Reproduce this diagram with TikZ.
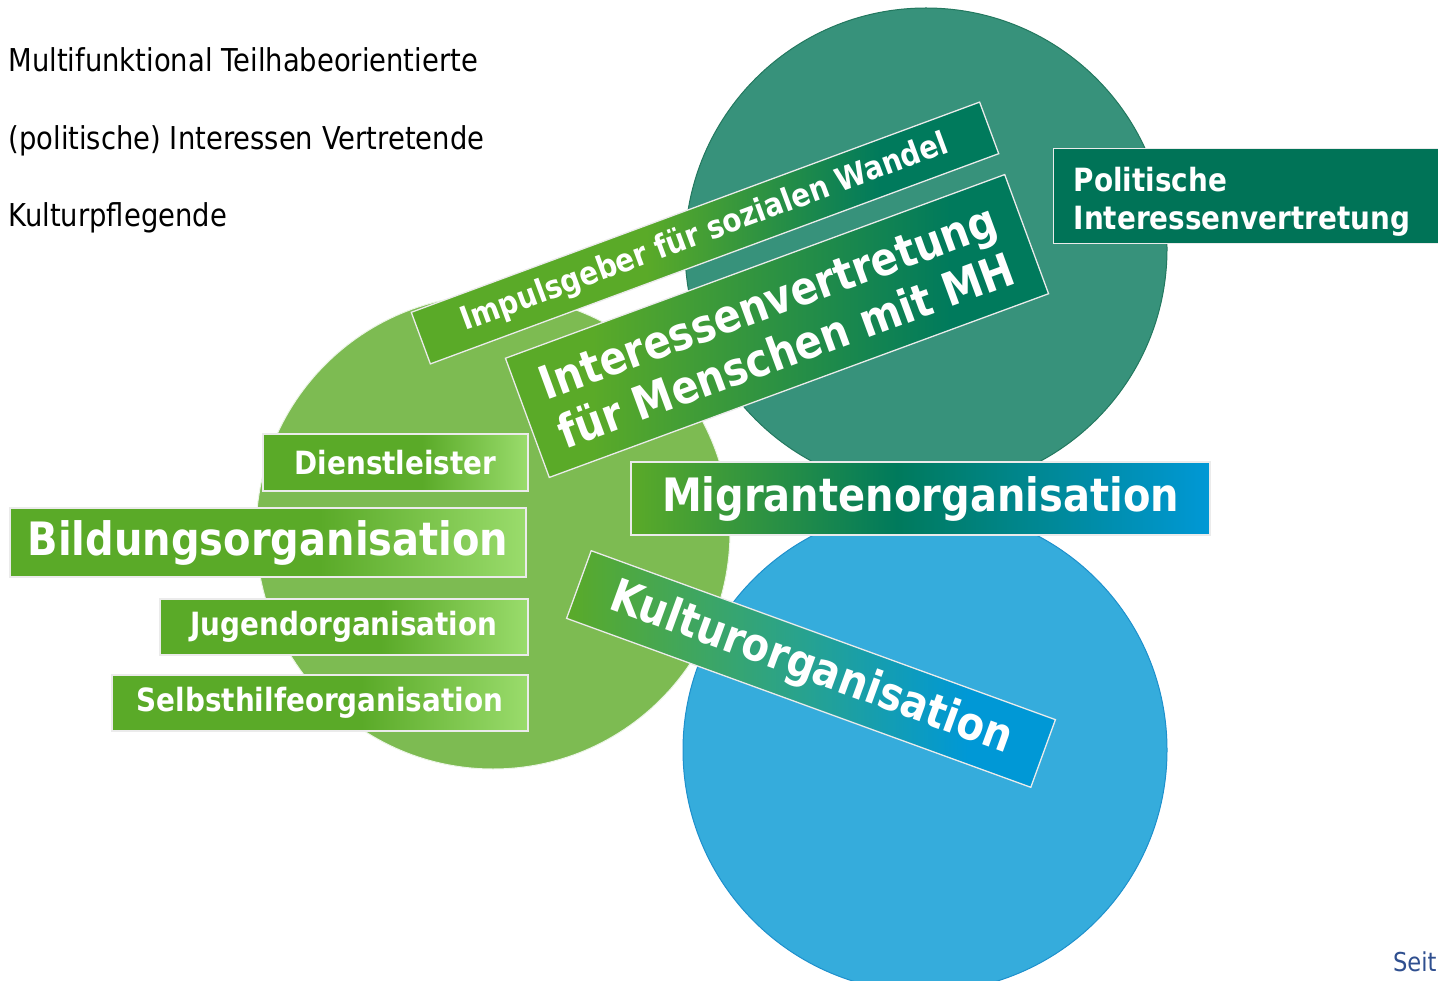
\documentclass[tikz,border=0pt]{standalone}
\usepackage{fontspec}
\setmainfont{DejaVu Sans}[FakeStretch=0.87]
\usetikzlibrary{positioning}

\definecolor{tealcirc}{HTML}{37927B}
\definecolor{tealline}{HTML}{23785F}
\definecolor{greencirc}{HTML}{7DBB52}
\definecolor{bluecirc}{HTML}{35ACDC}
\definecolor{blueline}{HTML}{1E90CC}
\definecolor{grA}{HTML}{5AAA28}
\definecolor{grB}{HTML}{9ADC6C}
\definecolor{dkA}{HTML}{007A5C}
\definecolor{tlA}{HTML}{2AA38A}
\definecolor{blA}{HTML}{0098D6}
\definecolor{polbox}{HTML}{007357}
\definecolor{seitblue}{HTML}{2F4F8F}

\pgfdeclarehorizontalshading{greenfade}{100bp}{color(0bp)=(grA); color(25bp)=(grA); color(55bp)=(grA); color(75bp)=(grB); color(100bp)=(grB)}
\pgfdeclarehorizontalshading{greenblue}{100bp}{color(0bp)=(grA); color(25bp)=(grA); color(48bp)=(dkA); color(75bp)=(blA); color(100bp)=(blA)}
\pgfdeclarehorizontalshading{greendark}{100bp}{color(0bp)=(grA); color(25bp)=(grA); color(45bp)=(grA); color(65bp)=(dkA); color(100bp)=(dkA)}
\pgfdeclarehorizontalshading{greenmh}{100bp}{color(0bp)=(grA); color(25bp)=(grA); color(33bp)=(grA); color(66bp)=(dkA); color(100bp)=(dkA)}
\pgfdeclarehorizontalshading{greenteal}{100bp}{color(0bp)=(grA); color(25bp)=(grA); color(48bp)=(tlA); color(66bp)=(blA); color(100bp)=(blA)}

\begin{document}
\begin{tikzpicture}[x=1pt,y=-1pt,
    box/.style={rectangle, draw=white!92!black, line width=1.3pt, inner sep=0pt, text=white, shade},
    smalltxt/.style={font=\fontsize{32}{38}\selectfont\bfseries},
    bigtxt/.style={font=\fontsize{46}{52}\selectfont\bfseries},
    lefttext/.style={anchor=base west, font=\fontsize{31.5}{36}\selectfont}]
    \useasboundingbox (0,0) rectangle (1438,981);

    % three circles
    \draw[fill=tealcirc, draw=tealline, line width=1pt] (926,249) circle (241pt);
    \draw[fill=greencirc, draw=white!85!greencirc, line width=1pt] (493,532) circle (237pt);
    \draw[fill=bluecirc, draw=blueline, line width=1pt] (925,750) circle (242pt);

    % text on the left
    \node[lefttext] (multi) at (5,72) {Multifunktional Teilhabeorientierte};
    \node[lefttext] (vertreter) at (5,150) {(politische) Interessen Vertretende};
    \node[lefttext] (pflege) at (5,227) {Kulturpflegende};

    % tilted boxes at the top
    \node[box, smalltxt, minimum width=606, minimum height=55, rotate=20.3, shading=greendark] (impuls) at (705,233) {Impulsgeber für sozialen Wandel};
    \node[box, bigtxt, align=center, minimum width=532, minimum height=127, rotate=20.2, shading=greenmh] (vertretung) at (777,326) {Interessenvertretung\\für Menschen mit MH};

    % box on the teal circle
    \node[box, smalltxt, anchor=north west, align=left, text width=360, inner xsep=20, inner ysep=7, text height=36, text depth=45, shade=false, fill=polbox] (politisch) at (1053,148) {Politische\\Interessenvertretung};

    % boxes on the green circle
    \node[box, smalltxt, minimum width=265, minimum height=57, shading=greenfade] (dienst) at (395.5,462.5) {Dienstleister};
    \node[box, bigtxt, minimum width=516, minimum height=69, shading=greenfade] (bildung) at (268,542.5) {Bildungsorganisation};
    \node[box, smalltxt, minimum width=368, minimum height=56, shading=greenfade] (jugend) at (344,627) {Jugendorganisation};
    \node[box, smalltxt, minimum width=416, minimum height=56, shading=greenfade] (selbsthilfe) at (320,703) {Selbsthilfeorganisation};

    % boxes at the blue circle
    \node[box, bigtxt, minimum width=579, minimum height=73, shading=greenblue] (migranten) at (920.5,498.5) {Migrantenorganisation};
    \node[box, bigtxt, minimum width=494, minimum height=72, rotate=-20, shading=greenteal] (kultur) at (811,669) {Kulturorganisation};

    \node[anchor=base east, text=seitblue, font=\fontsize{26}{30}\selectfont] (seite) at (1440,971) {Seit};
\end{tikzpicture}
\end{document}
